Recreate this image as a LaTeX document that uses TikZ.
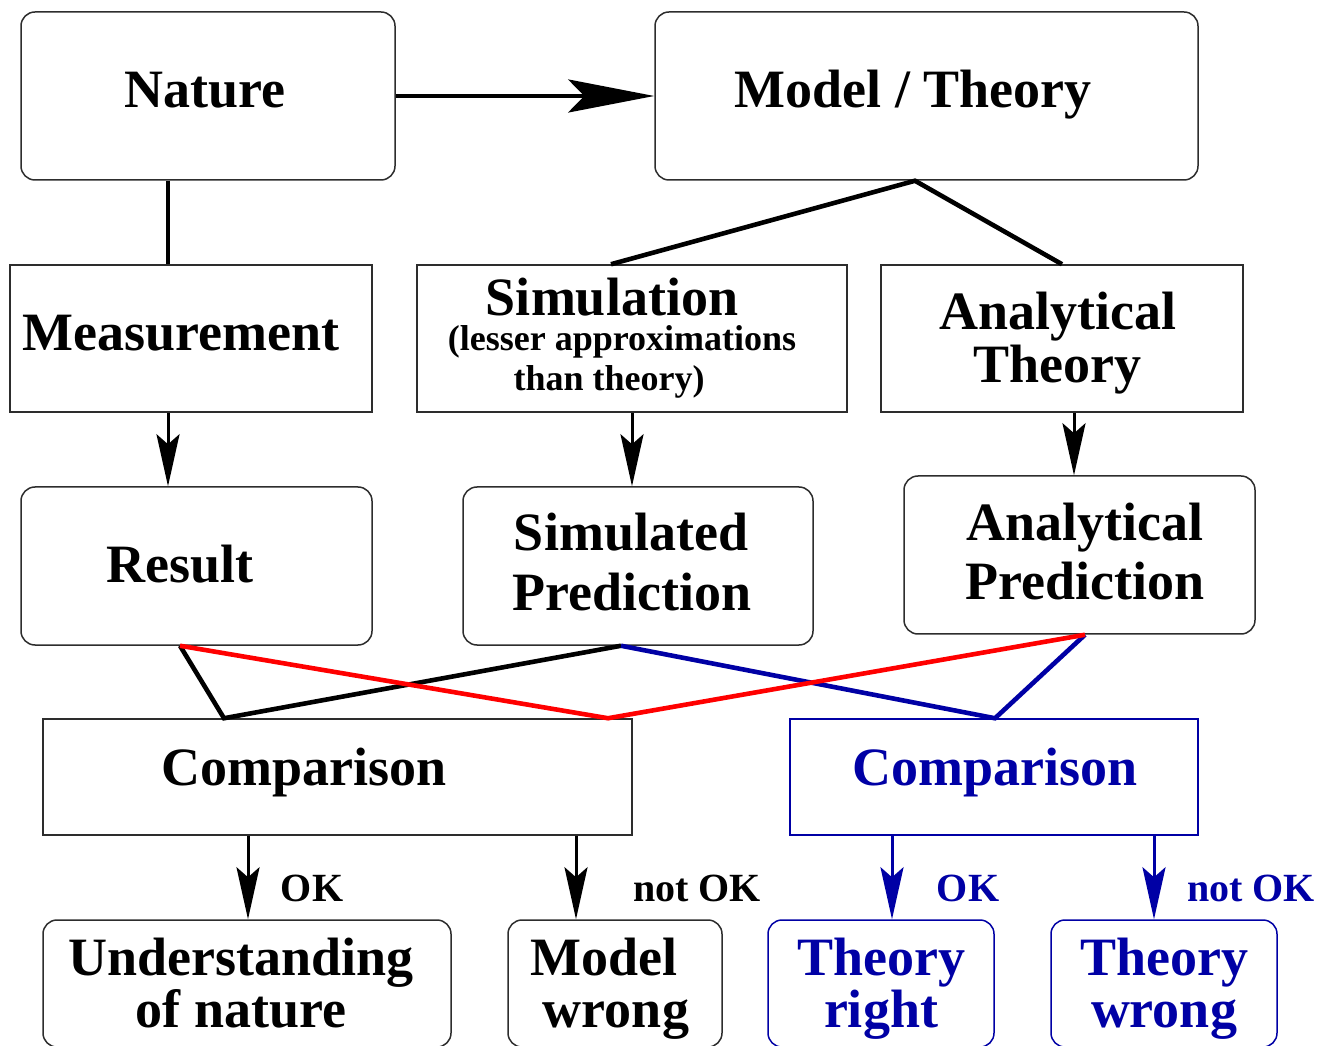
\documentclass[tikz,border=0pt]{standalone}
\usepackage{fontspec}
\setmainfont{Liberation Serif}
\usetikzlibrary{arrows.meta,calc}
\definecolor{navy}{RGB}{0,0,165}
\definecolor{boxline}{RGB}{45,45,45}
\newcommand\headfont{\fontsize{54pt}{54pt}\selectfont\bfseries}
\newcommand\notefont{\fontsize{36pt}{36pt}\selectfont\bfseries}
\newcommand\tagfont{\fontsize{40pt}{40pt}\selectfont\bfseries}
\begin{document}
\begin{tikzpicture}[x=1pt,y=1pt,
  rbox/.style={draw=boxline,line width=1.5pt,rounded corners=14pt,inner sep=0pt},
  sbox/.style={draw=boxline,line width=1.5pt,inner sep=0pt},
  rboxb/.style={draw=navy,line width=1.5pt,rounded corners=14pt,inner sep=0pt},
  sboxb/.style={draw=navy,line width=1.5pt,inner sep=0pt},
  txt/.style={anchor=base,inner sep=0pt,font=\headfont},
  note/.style={anchor=base,inner sep=0pt,font=\notefont},
  tag/.style={anchor=base,inner sep=0pt,font=\tagfont},
  link/.style={line width=4.6pt,line join=miter},
  flow/.style={line width=3pt,-{Stealth[length=52pt,width=23pt,inset=10pt]}},
  bigflow/.style={line width=4.4pt,-{Stealth[length=86pt,width=33pt,inset=16pt]}}
]
\clip (0,0) rectangle (1327,1045);
\fill[white] (0,0) rectangle (1327,1045);

% ---- boxes ----
\node[rbox,minimum width=374pt,minimum height=168pt] (nature) at (208,949) {};
\node[rbox,minimum width=543pt,minimum height=168pt] (model) at (926.5,949) {};
\node[sbox,minimum width=362pt,minimum height=147pt] (meas) at (191,706.5) {};
\node[sbox,minimum width=430pt,minimum height=147pt] (sim) at (632,706.5) {};
\node[sbox,minimum width=362pt,minimum height=147pt] (anth) at (1062,706.5) {};
\node[rbox,minimum width=351pt,minimum height=158pt] (result) at (196.5,479) {};
\node[rbox,minimum width=350pt,minimum height=158pt] (simpred) at (638,479) {};
\node[rbox,minimum width=351pt,minimum height=158pt] (anpred) at (1079.5,490) {};
\node[sbox,minimum width=589pt,minimum height=116pt] (comp) at (337.5,268) {};
\node[sboxb,minimum width=408pt,minimum height=116pt] (compb) at (994,268) {};
\node[rbox,minimum width=408pt,minimum height=127pt] (und) at (247,61.5) {};
\node[rbox,minimum width=214pt,minimum height=127pt] (mwrong) at (615,61.5) {};
\node[rboxb,minimum width=226pt,minimum height=127pt] (tright) at (881,61.5) {};
\node[rboxb,minimum width=226pt,minimum height=127pt] (twrong) at (1164,61.5) {};

% ---- texts ----
\node[txt] (tNature) at (205,937) {Nature};
\node[txt] (tModel) at (913,937) {Model / Theory};
\node[txt] (tMeas) at (181,694) {Measurement};
\node[txt] (tSim) at (612,729) {Simulation};
\node[note] (tSimA) at (622,694) {(lesser approximations};
\node[note] (tSimB) at (609,654) {than theory)};
\node[txt] (tAnA) at (1058,715) {Analytical};
\node[txt] (tAnB) at (1057,662) {Theory};
\node[txt] (tRes) at (180,462) {Result};
\node[txt] (tSpA) at (631,494) {Simulated};
\node[txt] (tSpB) at (632,434) {Prediction};
\node[txt] (tApA) at (1085,504) {Analytical};
\node[txt] (tApB) at (1085,445) {Prediction};
\node[txt] (tComp) at (304,260) {Comparison};
\node[txt,text=navy] (tCompB) at (995,260) {Comparison};
\node[tag] (okA) at (312,144) {OK};
\node[tag] (nokA) at (697,144) {not OK};
\node[tag,text=navy] (okB) at (968,144) {OK};
\node[tag,text=navy] (nokB) at (1251,144) {not OK};
\node[txt] (tUndA) at (241,70) {Understanding};
\node[txt] (tUndB) at (241,18) {of nature};
\node[txt] (tMwA) at (604,70) {Model};
\node[txt] (tMwB) at (616,18) {wrong};
\node[txt,text=navy] (tTrA) at (881,70) {Theory};
\node[txt,text=navy] (tTrB) at (881,18) {right};
\node[txt,text=navy] (tTwA) at (1164,70) {Theory};
\node[txt,text=navy] (tTwB) at (1164,18) {wrong};

% ---- junction points ----
\coordinate (mS) at ([xshift=-11.5pt]model.south);
\coordinate (rB) at ([xshift=-16.5pt]result.south);
\coordinate (sB) at ([xshift=-17pt]simpred.south);
\coordinate (aB) at ([xshift=5.5pt]anpred.south);
\coordinate (cL) at ([xshift=-113.5pt]comp.north);
\coordinate (cR) at ([xshift=270.5pt]comp.north);
\coordinate (cB) at ([xshift=1pt]compb.north);

% ---- connectors ----
\draw[bigflow] (nature.east) -- (model.west);
\draw[link] ([xshift=-40pt]nature.south) -- ([xshift=-23pt]meas.north);
\draw[link] ([xshift=-21pt]sim.north) -- (mS) -- (anth.north);
\draw[flow] ([xshift=-23pt]meas.south) -- ([xshift=-28.5pt]result.north);
\draw[flow] (sim.south) -- ([xshift=-6pt]simpred.north);
\draw[flow] ([xshift=12pt]anth.south) -- ([xshift=-5.5pt]anpred.north);

\draw[link] (rB) -- (cL) -- (sB);
\draw[link,navy] (sB) -- (cB) -- (aB);
\draw[link,red] (rB) -- (cR) -- (aB);

\draw[flow] ([xshift=-89.5pt]comp.south) -- ([xshift=1pt]und.north);
\draw[flow] ([xshift=238.5pt]comp.south) -- ([xshift=-39pt]mwrong.north);
\draw[flow,navy] ([xshift=-102pt]compb.south) -- ([xshift=11pt]tright.north);
\draw[flow,navy] ([xshift=160pt]compb.south) -- ([xshift=-10pt]twrong.north);
\end{tikzpicture}
\end{document}
